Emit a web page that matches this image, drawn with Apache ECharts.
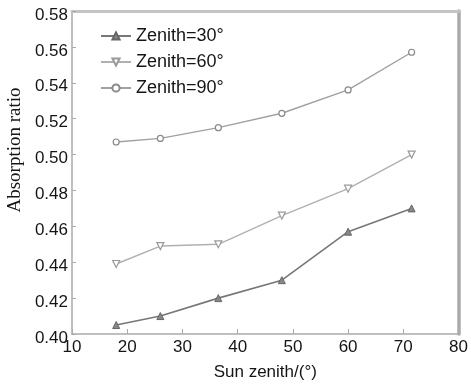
<!DOCTYPE html>
<html>
<head>
<meta charset="utf-8">
<script src="https://cdn.jsdelivr.net/npm/echarts@6/dist/echarts.min.js"></script>
<style>
html,body{margin:0;padding:0;background:#fff;}
#chart{width:471px;height:386px;}
</style>
</head>
<body>
<div id="chart"></div>
<script>
// Sun zenith angles (degrees) at which absorption was measured
const sunZenith = [18, 26, 36.5, 48, 60, 71.5];

// Absorption ratio for each panel zenith setting
const zenith30 = [0.405, 0.410, 0.420, 0.430, 0.457, 0.470];
const zenith60 = [0.439, 0.449, 0.450, 0.466, 0.481, 0.500];
const zenith90 = [0.507, 0.509, 0.515, 0.523, 0.536, 0.557];

const seriesNames = ['Zenith=30°', 'Zenith=60°', 'Zenith=90°'];
const yTitle = 'Absorption ratio';
const xTitle = 'Sun zenith/(°)';

const pair = (ys) => sunZenith.map((x, i) => [x, ys[i]]);

const font = '"Liberation Sans", Arial, sans-serif';
const serif = '"Liberation Serif", "Times New Roman", serif';
const ink = '#151515';

const chart = echarts.init(document.getElementById('chart'));
chart.setOption({
  animation: false,
  backgroundColor: '#fff',
  grid: { left: 72, right: 10, top: 11, bottom: 45 },
  legend: {
    orient: 'vertical',
    left: 95,
    top: 22,
    itemWidth: 30,
    itemHeight: 9,
    itemGap: 8,
    textStyle: { fontFamily: font, fontSize: 18, color: ink },
    data: seriesNames
  },
  graphic: [{
    type: 'text',
    x: 6, y: 150,
    rotation: Math.PI / 2,
    style: {
      text: yTitle,
      fill: ink,
      fontSize: 19,
      fontFamily: serif,
      align: 'center',
      verticalAlign: 'top'
    }
  }],
  xAxis: [{
    type: 'value',
    min: 10, max: 80, interval: 10,
    name: xTitle,
    nameLocation: 'middle',
    nameGap: 30,
    nameTextStyle: { fontFamily: font, fontSize: 17, color: ink },
    axisLine: { show: true, onZero: false, lineStyle: { color: '#aaa', width: 1.5 } },
    axisTick: { show: true, inside: true, length: 5, lineStyle: { color: '#aaa' } },
    axisLabel: { fontFamily: font, fontSize: 17, color: ink, margin: 5 },
    splitLine: { show: false }
  }, {
    type: 'value', position: 'top',
    min: 10, max: 80,
    axisLine: { show: true, lineStyle: { color: '#c4c4c4', width: 3 } },
    axisTick: { show: false }, axisLabel: { show: false }, splitLine: { show: false }
  }],
  yAxis: [{
    type: 'value',
    min: 0.40, max: 0.58, interval: 0.02,
    axisLine: { show: true, onZero: false, lineStyle: { color: '#aaa', width: 1.5 } },
    axisTick: { show: true, inside: true, length: 4, lineStyle: { color: '#aaa' } },
    axisLabel: {
      margin: 4,
      formatter: (v) => '{t|' + v.toFixed(2) + '}',
      rich: {
        t: { fontFamily: font, fontSize: 17, color: ink, padding: [8, 0, 0, 0] }
      }
    },
    splitLine: { show: false }
  }, {
    type: 'value', position: 'right',
    min: 0.40, max: 0.58,
    axisLine: { show: true, lineStyle: { color: '#aaa', width: 3.5 } },
    axisTick: { show: false }, axisLabel: { show: false }, splitLine: { show: false }
  }],
  series: [{
    name: seriesNames[0],
    type: 'line',
    data: pair(zenith30),
    symbol: 'triangle',
    symbolSize: 7,
    color: '#6e6e6e',
    lineStyle: { color: '#777', width: 1.6 },
    itemStyle: { color: '#888', borderColor: '#666', borderWidth: 1 }
  }, {
    name: seriesNames[1],
    type: 'line',
    data: pair(zenith60),
    symbol: 'triangle',
    symbolRotate: 180,
    symbolSize: 7,
    color: '#aaa',
    lineStyle: { color: '#b0b0b0', width: 1.4 },
    itemStyle: { color: '#fff', borderColor: '#999', borderWidth: 1.2 }
  }, {
    name: seriesNames[2],
    type: 'line',
    data: pair(zenith90),
    symbol: 'circle',
    symbolSize: 6,
    color: '#999',
    lineStyle: { color: '#a0a0a0', width: 1.4 },
    itemStyle: { color: '#fff', borderColor: '#8a8a8a', borderWidth: 1.2 }
  }]
});
</script>
</body>
</html>
